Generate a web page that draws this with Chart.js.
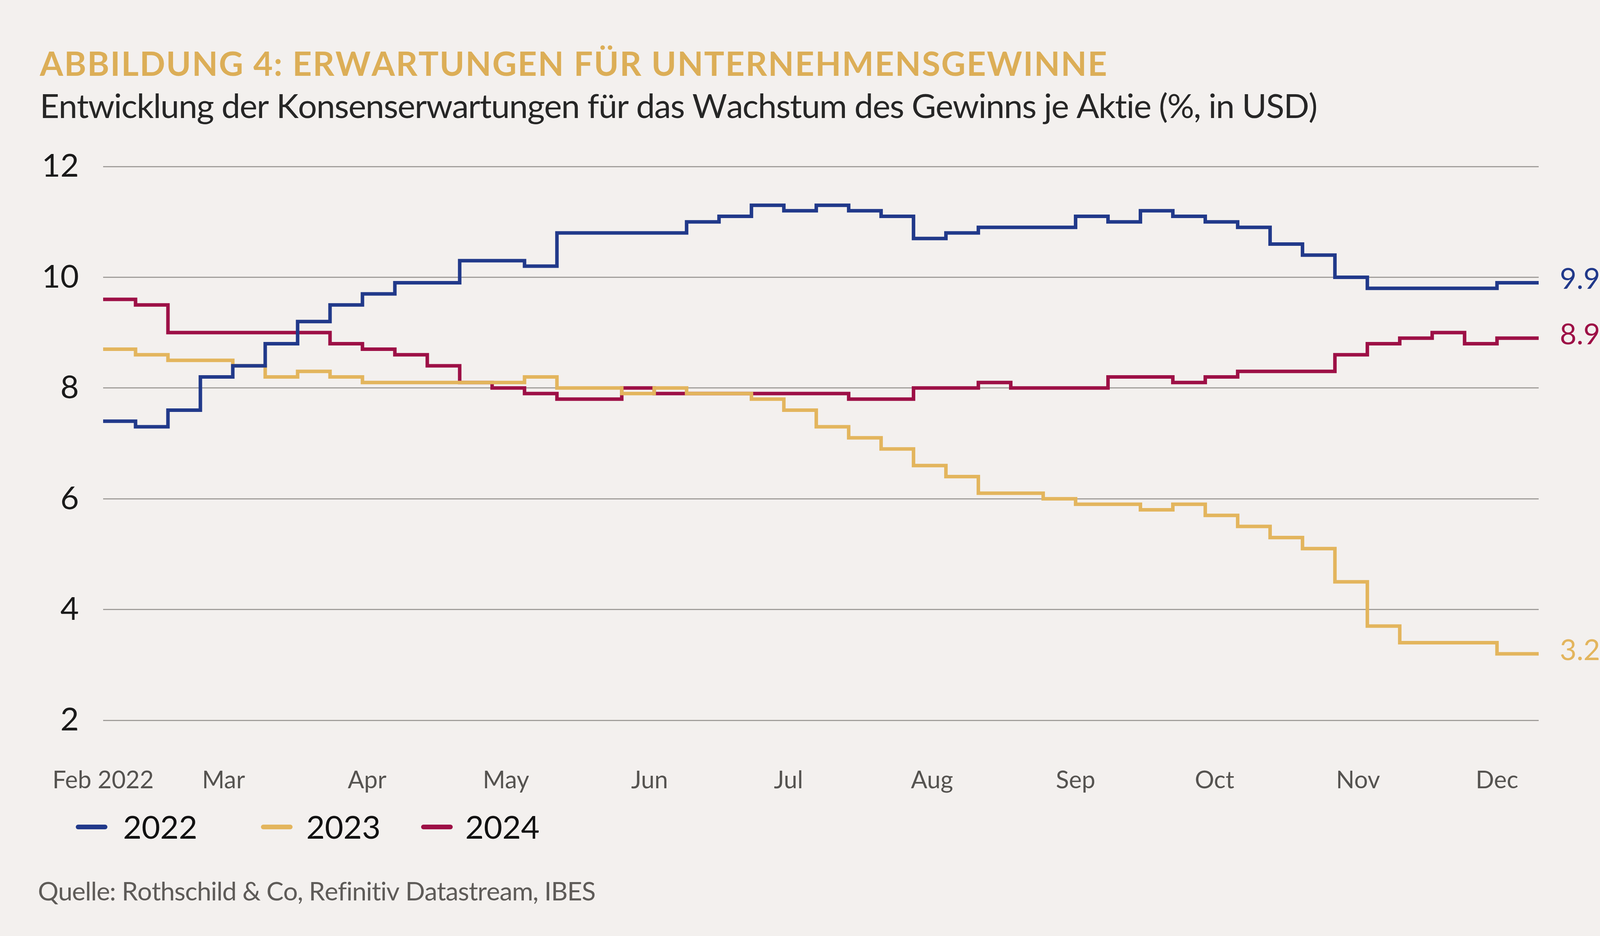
<!DOCTYPE html>
<html>
<head>
<meta charset="utf-8">
<script src="https://cdn.jsdelivr.net/npm/chart.js@4.4.1/dist/chart.umd.min.js"></script>
<style>
html, body { margin: 0; padding: 0; background: #f3f0ee; overflow: hidden; }
#wrap { width: 4224px; height: 2395px; }
canvas { display: block; }
</style>
</head>
<body>
<div id="wrap"><canvas id="myChart" width="4224" height="2395"></canvas></div>
<script>
// weekly readings, last entry = final day shown
const weekDates = [
    '2022-02-03','2022-02-10','2022-02-17','2022-02-24',
    '2022-03-03','2022-03-10','2022-03-17','2022-03-24','2022-03-31',
    '2022-04-07','2022-04-14','2022-04-21','2022-04-28',
    '2022-05-05','2022-05-12','2022-05-19','2022-05-26',
    '2022-06-02','2022-06-09','2022-06-16','2022-06-23','2022-06-30',
    '2022-07-07','2022-07-14','2022-07-21','2022-07-28',
    '2022-08-04','2022-08-11','2022-08-18','2022-08-25',
    '2022-09-01','2022-09-08','2022-09-15','2022-09-22','2022-09-29',
    '2022-10-06','2022-10-13','2022-10-20','2022-10-27',
    '2022-11-03','2022-11-10','2022-11-17','2022-11-24',
    '2022-12-01','2022-12-08','2022-12-10'
];

const values2022 = [7.4, 7.3, 7.6, 8.2, 8.4, 8.8, 9.2, 9.5, 9.7, 9.9, 9.9, 10.3, 10.3, 10.2, 10.8, 10.8,
    10.8, 10.8, 11.0, 11.1, 11.3, 11.2, 11.3, 11.2, 11.1, 10.7, 10.8, 10.9, 10.9, 10.9, 11.1, 11.0,
    11.2, 11.1, 11.0, 10.9, 10.6, 10.4, 10.0, 9.8, 9.8, 9.8, 9.8, 9.9, 9.9, 9.9];
const values2023 = [8.7, 8.6, 8.5, 8.5, 8.4, 8.2, 8.3, 8.2, 8.1, 8.1, 8.1, 8.1, 8.1, 8.2, 8.0, 8.0,
    7.9, 8.0, 7.9, 7.9, 7.8, 7.6, 7.3, 7.1, 6.9, 6.6, 6.4, 6.1, 6.1, 6.0, 5.9, 5.9,
    5.8, 5.9, 5.7, 5.5, 5.3, 5.1, 4.5, 3.7, 3.4, 3.4, 3.4, 3.2, 3.2, 3.2];
const values2024 = [9.6, 9.5, 9.0, 9.0, 9.0, 9.0, 9.0, 8.8, 8.7, 8.6, 8.4, 8.1, 8.0, 7.9, 7.8, 7.8,
    8.0, 7.9, 7.9, 7.9, 7.9, 7.9, 7.9, 7.8, 7.8, 8.0, 8.0, 8.1, 8.0, 8.0, 8.0, 8.2,
    8.2, 8.1, 8.2, 8.3, 8.3, 8.3, 8.6, 8.8, 8.9, 9.0, 8.8, 8.9, 8.9, 8.9];

const seriesNames = ['2022', '2023', '2024'];
const seriesColors = ['#21398a', '#e3b55d', '#9d1046'];

const monthTickDates = ['2022-02-03','2022-03-01','2022-04-01','2022-05-01','2022-06-01','2022-07-01',
    '2022-08-01','2022-09-01','2022-10-01','2022-11-01','2022-12-01'];
const monthTickLabels = ['Feb 2022','Mar','Apr','May','Jun','Jul','Aug','Sep','Oct','Nov','Dec'];
const yTickValues = [2, 4, 6, 8, 10, 12];

const titleText = 'ABBILDUNG 4: ERWARTUNGEN FÜR UNTERNEHMENSGEWINNE';
const subtitleText = 'Entwicklung der Konsenserwartungen für das Wachstum des Gewinns je Aktie (%, in USD)';
const sourceText = 'Quelle: Rothschild & Co, Refinitiv Datastream, IBES';

function dayOfYear(s) {
    return (Date.parse(s + 'T00:00:00Z') - Date.UTC(2022, 0, 1)) / 86400000 + 1;
}

// draws text char by char so it spans a given width
function drawSpaced(ctx, text, x, y, width) {
    let chars = text.split('');
    let total = 0;
    chars.forEach(c => total += ctx.measureText(c).width);
    let gap = (width - total) / (chars.length - 1);
    let cx = x;
    chars.forEach(c => {
        ctx.fillText(c, cx, y);
        cx += ctx.measureText(c).width + gap;
    });
}

const allValues = [values2022, values2023, values2024];

const textPlugin = {
    id: 'texts',
    afterDraw(chart) {
        const ctx = chart.ctx;
        const yScale = chart.scales.y;
        ctx.save();
        ctx.textBaseline = 'alphabetic';
        ctx.textAlign = 'left';

        ctx.fillStyle = '#dcae57';
        ctx.font = 'bold 86px Lato';
        drawSpaced(ctx, titleText, 102, 194, 2732);

        ctx.fillStyle = '#262626';
        ctx.font = '86px Lato';
        drawSpaced(ctx, subtitleText, 102, 302, 3271);

        ctx.fillStyle = '#5e5b58';
        ctx.font = '66px Lato';
        drawSpaced(ctx, sourceText, 97, 2304, 1428);

        // legend
        const markerX = [194, 668, 1078];
        const textX = [315, 784, 1191];
        ctx.font = '82px Lato';
        chart.data.datasets.forEach((ds, i) => {
            ctx.strokeStyle = ds.borderColor;
            ctx.lineWidth = 12;
            ctx.lineCap = 'round';
            ctx.beginPath();
            ctx.moveTo(markerX[i] + 6, 2116);
            ctx.lineTo(markerX[i] + 75, 2116);
            ctx.stroke();
            ctx.fillStyle = '#111111';
            ctx.fillText(ds.label, textX[i], 2146);
        });

        // last value labels
        ctx.font = '74px Lato';
        ctx.textBaseline = 'middle';
        chart.data.datasets.forEach((ds, i) => {
            const vals = allValues[i];
            const last = vals[vals.length - 1];
            ctx.fillStyle = ds.borderColor;
            ctx.fillText(last.toFixed(1), 3993, yScale.getPixelForValue(last) - 8);
        });
        ctx.restore();
    }
};

const ctx = document.getElementById('myChart').getContext('2d');
const myChart = new Chart(ctx, {
    type: 'line',
    data: {
        datasets: allValues.map((vals, i) => ({
            label: seriesNames[i],
            data: vals.map((v, j) => ({ x: dayOfYear(weekDates[j]), y: v })),
            borderColor: seriesColors[i],
            backgroundColor: seriesColors[i],
            borderWidth: 9,
            pointRadius: 0,
            stepped: true,
            fill: false
        }))
    },
    options: {
        responsive: false,
        animation: false,
        devicePixelRatio: 1,
        layout: { padding: { top: 426, right: 285, bottom: 0, left: 0 } },
        plugins: { legend: { display: false }, tooltip: { enabled: false } },
        scales: {
            x: {
                type: 'linear',
                min: dayOfYear(weekDates[0]),
                max: dayOfYear(weekDates[weekDates.length - 1]),
                afterBuildTicks: (scale) => {
                    scale.ticks = monthTickDates.map(d => ({ value: dayOfYear(d) }));
                },
                afterFit: (scale) => { scale.height = 2395 - 1843; },
                ticks: {
                    autoSkip: false,
                    maxRotation: 0,
                    padding: 117,
                    color: '#555350',
                    font: { family: 'Lato', size: 62 },
                    callback: (v, i) => monthTickLabels[i]
                },
                grid: { display: false, drawTicks: false },
                border: { display: false }
            },
            y: {
                min: 2,
                max: 12,
                afterBuildTicks: (scale) => {
                    scale.ticks = yTickValues.map(v => ({ value: v }));
                },
                afterFit: (scale) => { scale.width = 264; },
                ticks: {
                    padding: 62,
                    color: '#1a1a1a',
                    font: { family: 'Lato', size: 82 }
                },
                grid: { color: '#a19e9b', lineWidth: 3, drawTicks: false },
                border: { display: false }
            }
        }
    },
    plugins: [textPlugin]
});
</script>
</body>
</html>
